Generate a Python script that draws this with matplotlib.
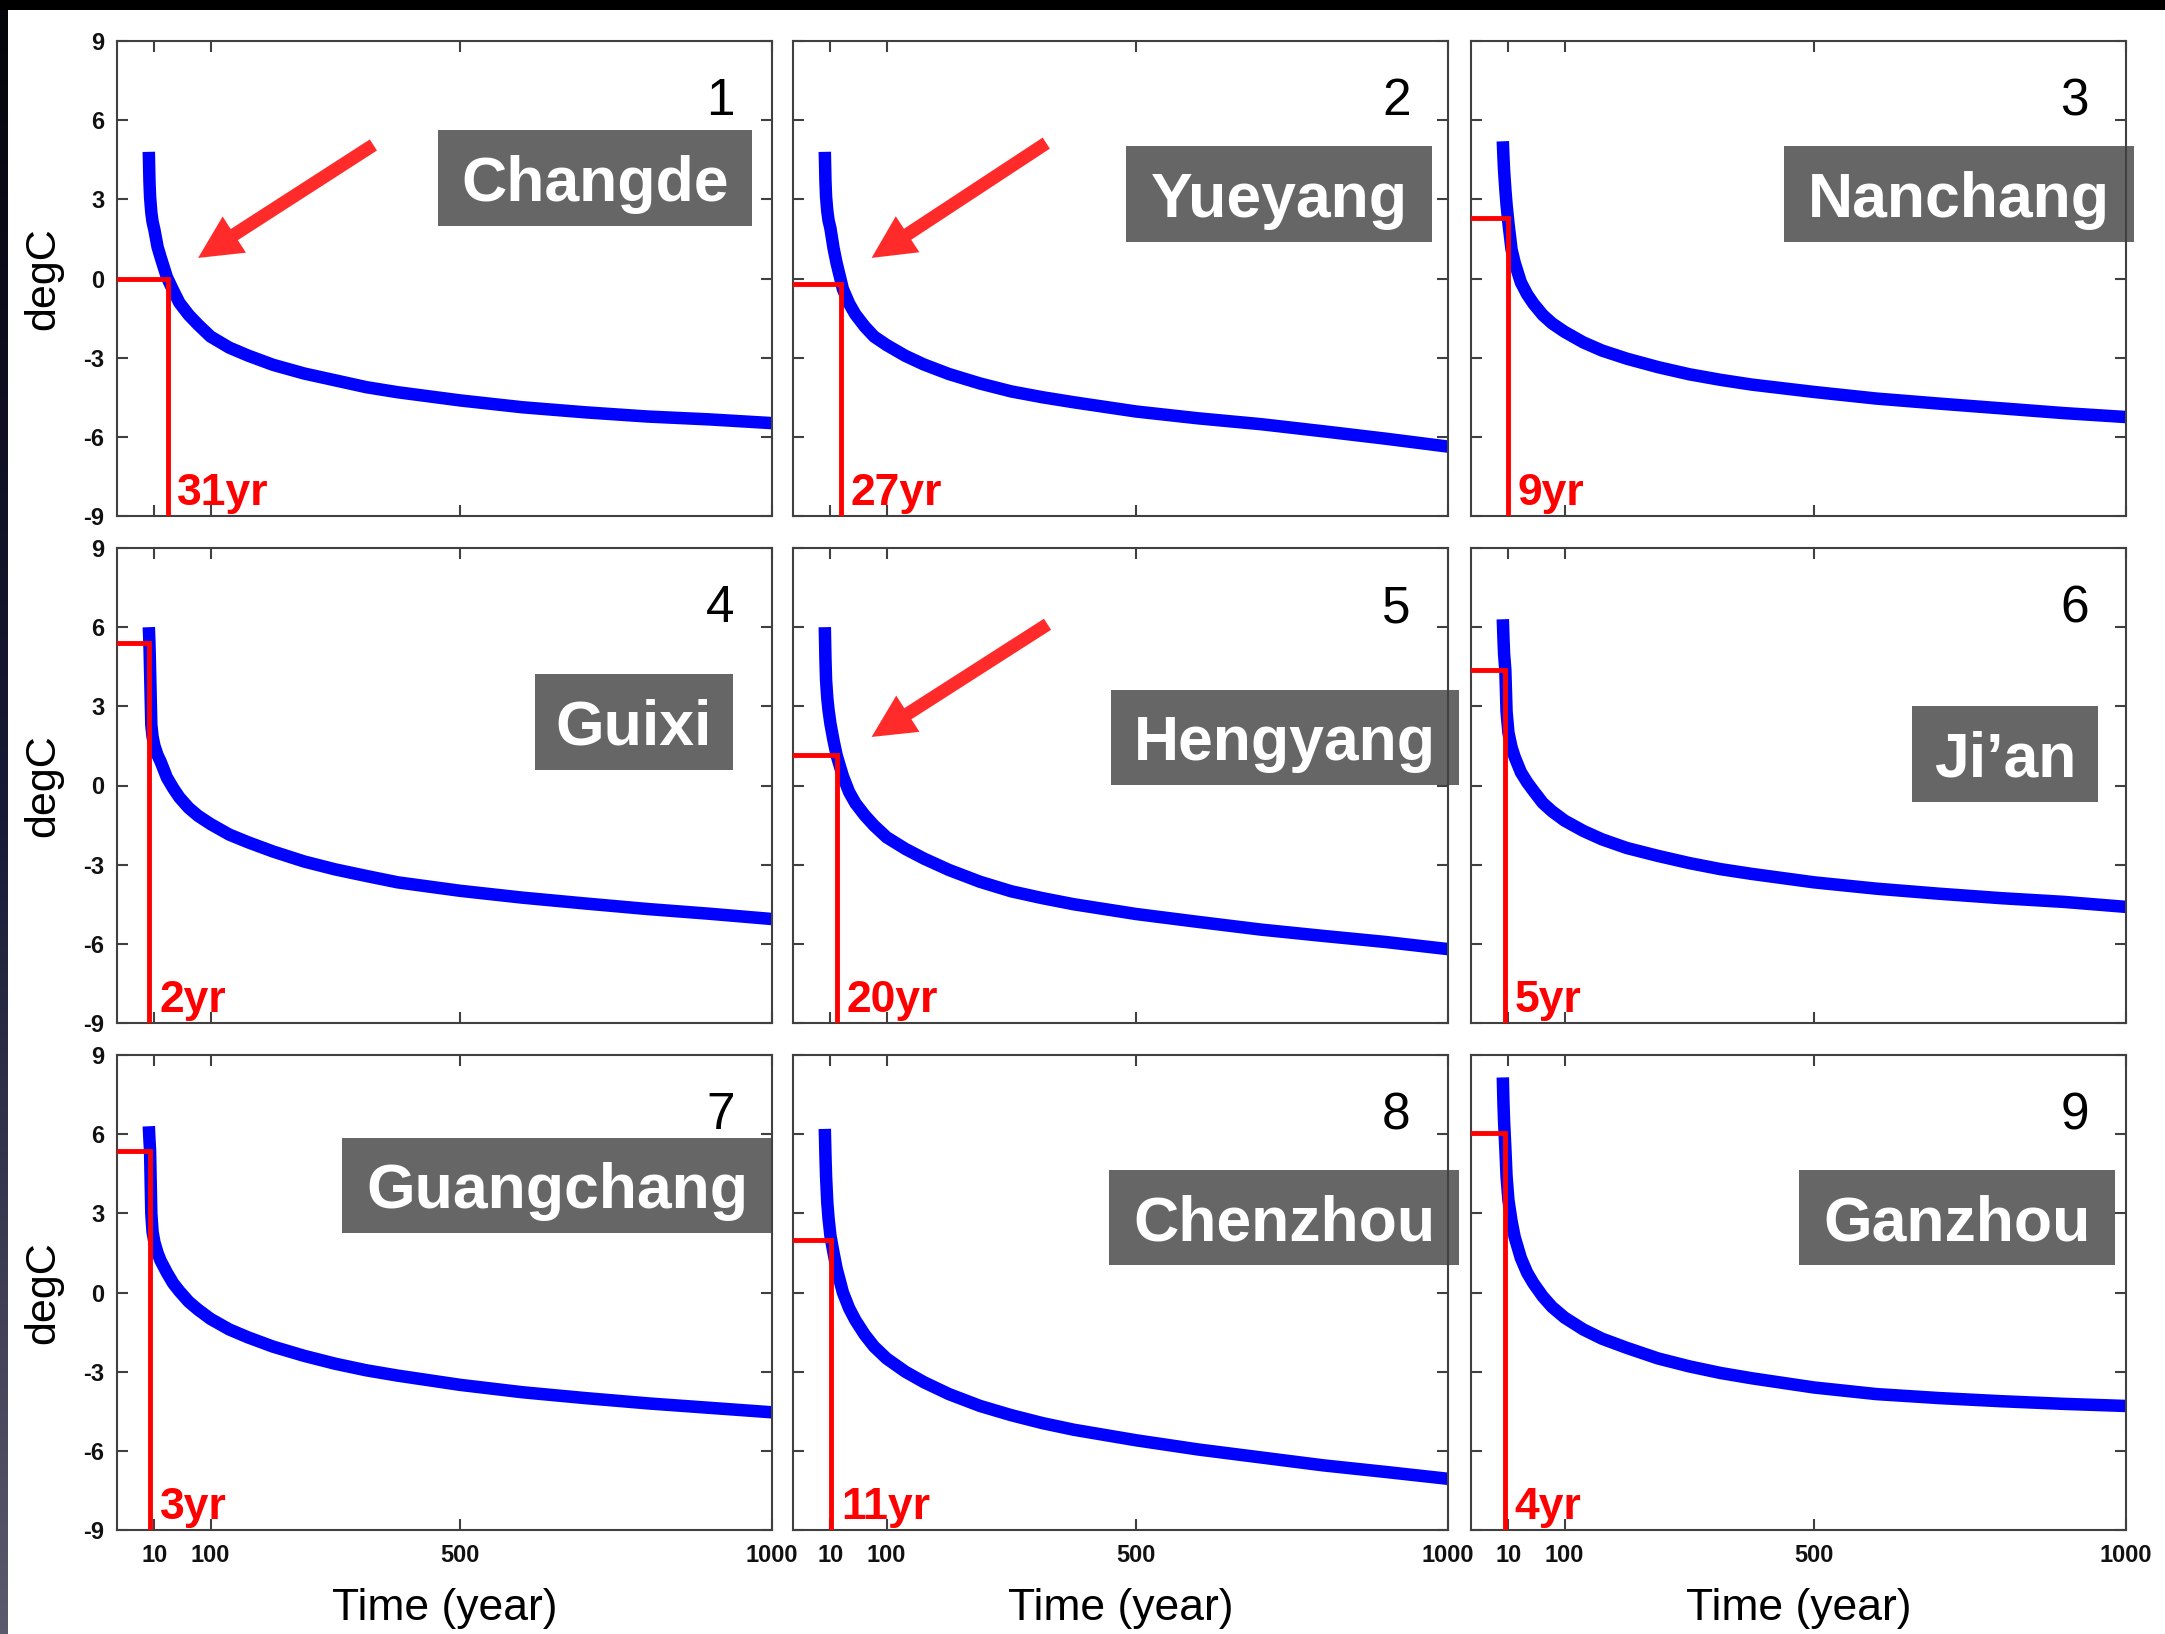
import numpy as np
import matplotlib
matplotlib.use("Agg")
import matplotlib.pyplot as plt
from matplotlib.patches import Rectangle
from matplotlib.colors import LinearSegmentedColormap

plt.rcParams["font.family"] = ["Liberation Sans", "DejaVu Sans"]
plt.rcParams["axes.unicode_minus"] = False

# ---- data -------------------------------------------------------------
years = [1, 2, 3, 5, 7, 10, 15, 20, 30, 40, 50, 65, 80, 100, 130, 160,
         200, 250, 300, 350, 400, 500, 600, 700, 800, 900, 1000]

cities = ["Changde", "Yueyang", "Nanchang", "Guixi", "Hengyang",
          "Ji\u2019an", "Guangchang", "Chenzhou", "Ganzhou"]

# year at which each curve drops below its threshold, and that threshold (degC)
cross_years = [31, 27, 9, 2, 20, 5, 3, 11, 4]
thresholds = [0.0, -0.19, 2.28, 5.4, 1.14, 4.39, 5.38, 2.0, 6.06]

temp_changde = [4.8, 3.7, 3.1, 2.5, 2.15, 1.84, 1.2, 0.8, 0.05, -0.45, -0.92,
                -1.38, -1.75, -2.2, -2.62, -2.92, -3.27, -3.6, -3.86, -4.12,
                -4.31, -4.62, -4.88, -5.07, -5.23, -5.34, -5.48]
temp_yueyang = [4.8, 3.7, 3.1, 2.55, 2.2, 1.9, 1.15, 0.57, -0.4, -0.95, -1.36,
                -1.82, -2.2, -2.52, -2.93, -3.26, -3.62, -3.98, -4.28, -4.5,
                -4.69, -5.04, -5.3, -5.52, -5.79, -6.07, -6.37]
temp_nanchang = [5.2, 4.6, 4.1, 3.4, 2.8, 2.1, 1.1, 0.6, -0.15, -0.6, -0.95,
                 -1.38, -1.7, -2.02, -2.42, -2.73, -3.04, -3.36, -3.63, -3.84,
                 -4.02, -4.3, -4.55, -4.74, -4.92, -5.1, -5.25]
temp_guixi = [6.0, 5.4, 4.4, 2.3, 1.85, 1.5, 1.15, 0.9, 0.3, -0.1, -0.45,
              -0.85, -1.15, -1.46, -1.86, -2.15, -2.5, -2.88, -3.18, -3.43,
              -3.67, -3.99, -4.25, -4.47, -4.68, -4.86, -5.06]
temp_hengyang = [6.0, 4.8, 4.0, 3.3, 2.85, 2.34, 1.7, 1.14, 0.35, -0.25, -0.67,
                 -1.13, -1.52, -1.96, -2.4, -2.77, -3.2, -3.65, -4.01, -4.27,
                 -4.5, -4.87, -5.17, -5.46, -5.7, -5.93, -6.2]
temp_jian = [6.3, 5.6, 5.0, 4.39, 2.8, 2.0, 1.45, 1.08, 0.5, 0.12, -0.2,
             -0.66, -0.98, -1.33, -1.72, -2.04, -2.37, -2.67, -2.94, -3.17,
             -3.35, -3.67, -3.91, -4.1, -4.27, -4.41, -4.6]
temp_guangchang = [6.3, 5.8, 5.38, 3.0, 2.3, 1.9, 1.5, 1.2, 0.75, 0.35, 0.05,
                   -0.35, -0.65, -1.0, -1.4, -1.7, -2.05, -2.4, -2.7, -2.95,
                   -3.15, -3.5, -3.78, -4.0, -4.2, -4.37, -4.54]
temp_chenzhou = [6.2, 5.2, 4.4, 3.4, 2.8, 2.15, 1.5, 0.9, 0.0, -0.6, -1.05,
                 -1.6, -2.05, -2.5, -3.0, -3.4, -3.85, -4.3, -4.65, -4.95,
                 -5.2, -5.6, -5.95, -6.25, -6.55, -6.8, -7.06]
temp_ganzhou = [8.15, 7.2, 6.5, 5.5, 4.4, 3.5, 2.7, 2.1, 1.3, 0.75, 0.35,
                -0.15, -0.55, -0.95, -1.4, -1.75, -2.1, -2.5, -2.8, -3.05,
                -3.25, -3.6, -3.85, -4.0, -4.12, -4.22, -4.3]

temps = [temp_changde, temp_yueyang, temp_nanchang, temp_guixi, temp_hengyang,
         temp_jian, temp_guangchang, temp_chenzhou, temp_ganzhou]

# ---- layout -------------------------------------------------------------
W, H = 2165, 1634
COL_X = [117, 793, 1471]
ROW_Y = [41, 548, 1055]
AX_W, AX_H = 655, 475
X_MIN, X_MAX = -50, 1000
Y_MIN, Y_MAX = -9, 9

# name box: centre x, centre y, width, height (axes fraction)
name_boxes = [
    (0.730, 0.712, 0.479, 0.202),
    (0.742, 0.678, 0.467, 0.202),
    (0.745, 0.678, 0.534, 0.202),
    (0.789, 0.634, 0.302, 0.202),
    (0.751, 0.601, 0.532, 0.200),
    (0.815, 0.566, 0.283, 0.202),
    (0.673, 0.725, 0.658, 0.200),
    (0.750, 0.658, 0.534, 0.200),
    (0.742, 0.658, 0.482, 0.200),
]

# red pointer arrows: panel index -> (tail, head) in data coords
arrows = {
    0: ((361, 5.06), (80, 0.78)),
    1: ((356, 5.13), (76, 0.78)),
    4: ((358, 6.11), (76, 1.84)),
}

BLUE = "#0000ff"
RED = "#ff0000"
ARROW_RED = "#ff2b2b"
SPINE = "#404040"

fig = plt.figure(figsize=(W / 100, H / 100), dpi=100)
fig.patch.set_facecolor("white")

for i in range(9):
    r, c = divmod(i, 3)
    ax = fig.add_axes([COL_X[c] / W, 1 - (ROW_Y[r] + AX_H) / H, AX_W / W, AX_H / H])

    ax.plot(years, temps[i], color=BLUE, lw=9, solid_capstyle="butt",
            solid_joinstyle="round", zorder=2)

    yr, th = cross_years[i], thresholds[i]
    ax.plot([X_MIN, yr, yr], [th, th, Y_MIN], color=RED, lw=3.5,
            solid_joinstyle="miter", zorder=3)
    ax.annotate(f"{yr}yr", xy=(yr, 0.023), xycoords=("data", "axes fraction"),
                xytext=(7, 0), textcoords="offset points", ha="left",
                va="baseline", color=RED, fontsize=32, fontweight="bold",
                zorder=4)

    if i in arrows:
        tail, head = arrows[i]
        ax.annotate("", xy=head, xytext=tail,
                    arrowprops=dict(arrowstyle="simple,head_length=31,head_width=31,tail_width=9.5",
                                    mutation_scale=1, color=ARROW_RED, lw=0,
                                    shrinkA=0, shrinkB=0),
                    zorder=4)

    cx, cy, bw, bh = name_boxes[i]
    ax.add_patch(Rectangle((cx - bw / 2, cy - bh / 2), bw, bh,
                           transform=ax.transAxes, facecolor="#666666",
                           edgecolor="none", clip_on=False, zorder=2.4))
    ax.text(cx, cy - 0.048, cities[i], transform=ax.transAxes, ha="center",
            va="baseline", color="white", fontsize=45, fontweight="bold",
            zorder=5, clip_on=False)

    ax.text(0.943, 0.844, str(i + 1), transform=ax.transAxes, ha="right",
            va="baseline", fontsize=37, color="black", zorder=5)

    ax.set_xlim(X_MIN, X_MAX)
    ax.set_ylim(Y_MIN, Y_MAX)
    ax.set_xticks([10, 100, 500, 1000])
    ax.set_yticks(np.arange(-9, 10, 3))
    ax.tick_params(direction="in", top=True, right=True, length=8, width=1.5,
                   color=SPINE, labelsize=17, labelcolor="#111111",
                   labelleft=(c == 0), labelbottom=(r == 2))
    ax.tick_params(axis="x", pad=10)
    ax.tick_params(axis="y", pad=9)
    for lbl in ax.get_xticklabels() + ax.get_yticklabels():
        lbl.set_fontweight("bold")
    for sp in ax.spines.values():
        sp.set_color(SPINE)
        sp.set_linewidth(1.5)

    if c == 0:
        fig.text(43 / W, 1 - (ROW_Y[r] + AX_H / 2) / H, "degC", rotation=90,
                 ha="center", va="center", fontsize=31)
    if r == 2:
        fig.text((COL_X[c] + AX_W / 2) / W, 1 - 1620 / H, "Time (year)",
                 ha="center", va="baseline", fontsize=32)

# dark frame edges along the top and left
fig.add_artist(Rectangle((0, 1 - 10 / H), 1, 10 / H, transform=fig.transFigure,
                         facecolor="black", edgecolor="none", zorder=10))
edge = fig.add_axes([0, 0, 8 / W, 1 - 10 / H])
edge_cmap = LinearSegmentedColormap.from_list("edge", ["#05050c", "#181b36", "#5a5a6c"])
edge.imshow(np.linspace(0, 1, 256).reshape(-1, 1), aspect="auto", cmap=edge_cmap,
            extent=[0, 1, 0, 1], origin="upper")
edge.axis("off")

fig.savefig("out.png", dpi=100, facecolor="white")
